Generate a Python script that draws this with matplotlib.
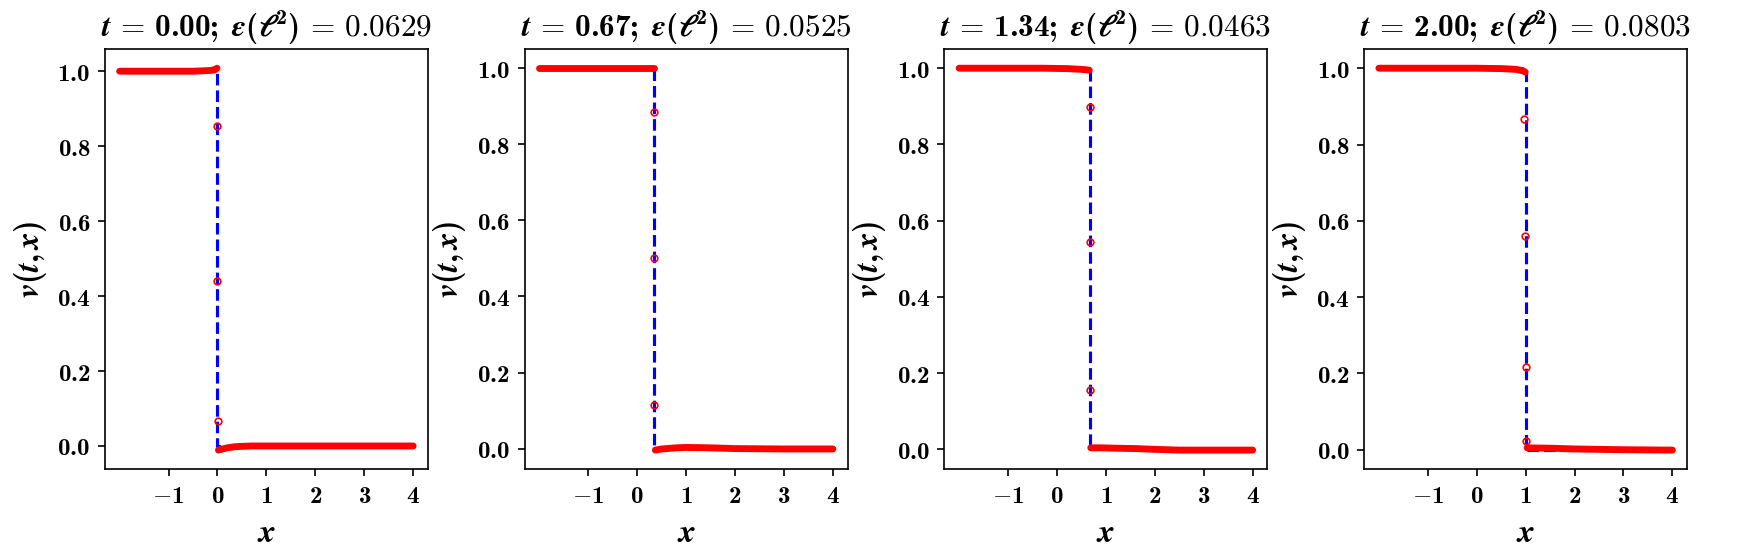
import numpy as np
import matplotlib
matplotlib.use("Agg")
import matplotlib.pyplot as plt
from matplotlib.ticker import FuncFormatter

# Computer Modern look, with a bold serif italic for the variables
plt.rcParams['mathtext.fontset'] = 'custom'
plt.rcParams['mathtext.rm'] = 'cmr10'
plt.rcParams['mathtext.it'] = 'cmmi10'
plt.rcParams['mathtext.bf'] = 'cmb10'
plt.rcParams['mathtext.bfit'] = 'STIXGeneral:italic:bold'
plt.rcParams['mathtext.fallback'] = 'cm'
plt.rcParams['axes.unicode_minus'] = True

# values, one entry per panel
times = ['0.00', '0.67', '1.34', '2.00']
errors = ['0.0629', '0.0525', '0.0463', '0.0803']
shocks = [0.0, 0.35, 0.67, 1.0]

# left plateau of the predicted solution
left_x = [
    [-2.0, -1.0, -0.5, -0.3, -0.15, -0.05, -0.01],
    [-2.0, -1.0, 0.0, 0.34],
    [-2.0, -1.0, -0.3, 0.2, 0.5, 0.66],
    [-2.0, -1.0, 0.0, 0.5, 0.8, 0.95, 0.99],
]
left_v = [
    [1.0, 1.0, 1.0, 1.001, 1.002, 1.004, 1.008],
    [1.0, 1.0, 1.0, 1.0],
    [1.0, 1.0, 1.0, 0.999, 0.997, 0.995],
    [1.0, 1.0, 1.0, 0.999, 0.997, 0.993, 0.99],
]

# isolated points across the jump
jump_x = [
    [-0.006, 0.0, 0.004],
    [0.35, 0.35, 0.35],
    [0.67, 0.67, 0.67],
    [0.96, 0.995, 1.0, 1.0],
]
jump_v = [
    [0.855, 0.44, 0.066],
    [0.886, 0.50, 0.115],
    [0.899, 0.545, 0.156],
    [0.868, 0.56, 0.218, 0.024],
]

# right plateau
right_x = [
    [0.02, 0.1, 0.2, 0.35, 0.5, 0.7, 1.0, 2.0, 3.0, 4.0],
    [0.37, 0.5, 0.8, 1.0, 1.5, 2.0, 3.0, 4.0],
    [0.69, 0.9, 1.2, 1.6, 2.0, 2.5, 3.0, 4.0],
    [1.03, 1.2, 1.5, 2.0, 2.5, 3.0, 4.0],
]
right_v = [
    [-0.011, -0.008, -0.005, -0.002, -0.001, 0.0, 0.0, 0.0, 0.0, 0.0],
    [-0.004, -0.001, 0.002, 0.003, 0.002, 0.0, -0.001, -0.001],
    [0.004, 0.004, 0.003, 0.002, 0.0, -0.002, -0.002, -0.002],
    [0.005, 0.0045, 0.004, 0.002, 0.001, 0.0, -0.001],
]

x_domain = [-2.0, 4.0]
xticks = [-1, 0, 1, 2, 3, 4]
yticks = [0.0, 0.2, 0.4, 0.6, 0.8, 1.0]

fig, axes = plt.subplots(1, 4, figsize=(1749 / 150, 552 / 150), dpi=150)
fig.subplots_adjust(left=0.060, right=0.9646, bottom=0.150, top=0.911, wspace=0.30)

for i, ax in enumerate(axes):
    s = shocks[i]
    # exact step solution
    ax.plot([x_domain[0], s, s, x_domain[1]], [1, 1, 0, 0], 'b--', lw=1.5, zorder=1)
    # prediction
    ax.plot(left_x[i], left_v[i], color='red', lw=3.3, solid_capstyle='round', zorder=2)
    ax.plot(right_x[i], right_v[i], color='red', lw=3.3, solid_capstyle='round', zorder=2)
    ax.plot(jump_x[i], jump_v[i], 'o', color='red', mfc='none', ms=3.2, mew=0.8, zorder=3)

    ax.set_xticks(xticks)
    ax.set_yticks(yticks)
    ax.xaxis.set_major_formatter(FuncFormatter(lambda v, p: r'$\mathbf{%d}$' % v))
    ax.yaxis.set_major_formatter(FuncFormatter(lambda v, p: r'$\mathbf{%.1f}$' % v))
    ax.tick_params(labelsize=12)

    ax.set_xlabel(r'$\mathbfit{x}$', fontsize=16)
    ax.set_ylabel(r'$\mathbfit{v}\mathbf{(}\mathbfit{t}\mathbf{,}\,\mathbfit{x}\mathbf{)}$', fontsize=15.5)
    ax.set_title(r'$\mathbfit{t}\,=\,\mathbf{%s;}\; \mathbfit{\epsilon}\mathbf{(}\mathbfit{\ell}^{\mathbf{2}}\mathbf{)}\,=\,%s$'
                 % (times[i], errors[i]), fontsize=15)

fig.savefig('out.png', dpi=150)
